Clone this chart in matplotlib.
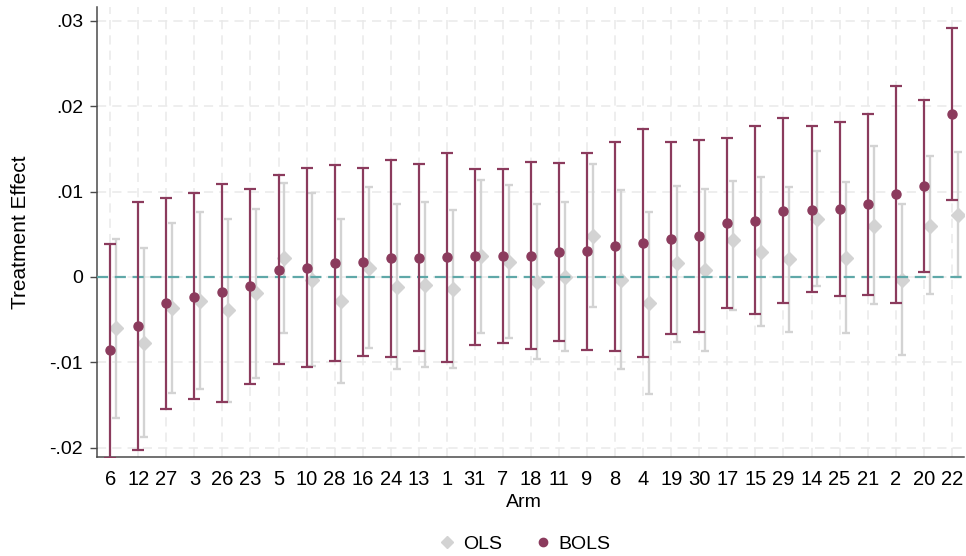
import numpy as np
import matplotlib.pyplot as plt
from matplotlib.lines import Line2D

plt.rcParams["font.family"] = ["Liberation Sans", "DejaVu Sans"]

# arms sorted by BOLS estimate
arms = ["6", "12", "27", "3", "26", "23", "5", "10", "28", "16", "24", "13", "1", "31", "7",
        "18", "11", "9", "8", "4", "19", "30", "17", "15", "29", "14", "25", "21", "2", "20", "22"]

bols_est = [-0.0086, -0.0058, -0.0031, -0.0023, -0.0018, -0.0011, 0.0008, 0.0011, 0.0016, 0.0017,
            0.0022, 0.0022, 0.0023, 0.0024, 0.0025, 0.0025, 0.0029, 0.0030, 0.0036, 0.0040, 0.0045,
            0.0048, 0.0063, 0.0066, 0.0077, 0.0079, 0.0080, 0.0085, 0.0097, 0.0106, 0.0191]
bols_lo = [-0.0212, -0.0203, -0.0155, -0.0143, -0.0146, -0.0125, -0.0102, -0.0105, -0.0099, -0.0093,
           -0.0094, -0.0087, -0.0100, -0.0080, -0.0077, -0.0084, -0.0075, -0.0086, -0.0087, -0.0094,
           -0.0067, -0.0064, -0.0036, -0.0044, -0.0031, -0.0018, -0.0022, -0.0021, -0.0030, 0.0006, 0.0090]
bols_hi = [0.0039, 0.0088, 0.0093, 0.0098, 0.0109, 0.0103, 0.0119, 0.0128, 0.0131, 0.0128,
           0.0137, 0.0132, 0.0145, 0.0127, 0.0126, 0.0135, 0.0134, 0.0145, 0.0158, 0.0173, 0.0158,
           0.0160, 0.0163, 0.0177, 0.0186, 0.0177, 0.0181, 0.0191, 0.0224, 0.0207, 0.0292]

ols_est = [-0.0060, -0.0077, -0.0036, -0.0028, -0.0039, -0.0019, 0.0022, -0.0003, -0.0028, 0.0011,
           -0.0012, -0.0009, -0.0014, 0.0025, 0.0018, -0.0006, 0.0000, 0.0048, -0.0003, -0.0030, 0.0016,
           0.0008, 0.0043, 0.0029, 0.0021, 0.0068, 0.0022, 0.0060, -0.0003, 0.0060, 0.0073]
ols_lo = [-0.0165, -0.0187, -0.0136, -0.0131, -0.0146, -0.0118, -0.0066, -0.0104, -0.0124, -0.0083,
          -0.0108, -0.0106, -0.0107, -0.0066, -0.0071, -0.0096, -0.0087, -0.0035, -0.0108, -0.0137, -0.0076,
          -0.0087, -0.0039, -0.0058, -0.0064, -0.0011, -0.0066, -0.0032, -0.0091, -0.0020, 0.0000]
ols_hi = [0.0045, 0.0034, 0.0063, 0.0076, 0.0068, 0.0080, 0.0110, 0.0098, 0.0068, 0.0105,
          0.0085, 0.0088, 0.0079, 0.0114, 0.0108, 0.0085, 0.0088, 0.0132, 0.0102, 0.0076, 0.0107,
          0.0103, 0.0112, 0.0117, 0.0105, 0.0147, 0.0111, 0.0153, 0.0086, 0.0142, 0.0146]

yticks = [-0.02, -0.01, 0, 0.01, 0.02, 0.03]
ytick_labels = ["-.02", "-.01", "0", ".01", ".02", ".03"]

BOLS_COLOR = "#8b3b5d"
OLS_COLOR = "#d3d3d3"

x = np.arange(len(arms))
offset = 0.21

fig = plt.figure(figsize=(9.66, 5.56), dpi=100)
ax = fig.add_axes([0.1004, 0.178, 0.898, 0.809])

ols_est = np.array(ols_est)
bols_est = np.array(bols_est)

ax.errorbar(x + offset, ols_est,
            yerr=[ols_est - np.array(ols_lo), np.array(ols_hi) - ols_est],
            fmt="D", color=OLS_COLOR, ms=7, elinewidth=1.7, capsize=3, capthick=1.7,
            zorder=3)
ax.axhline(0, color="#5fa8a8", lw=1.6, ls=(0, (5, 3)), zorder=3.5)
ax.errorbar(x, bols_est,
            yerr=[bols_est - np.array(bols_lo), np.array(bols_hi) - bols_est],
            fmt="o", color=BOLS_COLOR, ms=6.5, elinewidth=1.6, capsize=4, capthick=1.6,
            zorder=4)

ax.set_xlim(-0.47, 30.45)
ax.set_ylim(-0.0211, 0.0316)
ax.set_xticks(x)
ax.set_xticklabels(arms, fontsize=14.5)
ax.set_yticks(yticks)
ax.set_yticklabels(ytick_labels, fontsize=14)

ax.grid(True, color="#e9e9e9", lw=1.1, ls=(0, (6, 4)), zorder=0)
ax.set_axisbelow(True)
for side in ["top", "right"]:
    ax.spines[side].set_visible(False)
for side in ["left", "bottom"]:
    ax.spines[side].set_color("#4a4a4a")
    ax.spines[side].set_linewidth(1.1)
ax.tick_params(axis="y", length=5, width=1.0, color="#4a4a4a", pad=5)
ax.tick_params(axis="x", length=0, pad=9)

ax.set_xlabel("Arm", fontsize=14)
ax.xaxis.set_label_coords(0.4925, -0.082)
ax.set_ylabel("Treatment Effect", fontsize=15)
ax.yaxis.set_label_coords(-0.077, 0.5)

handles = [
    Line2D([], [], ls="none", marker="D", color=OLS_COLOR, ms=6),
    Line2D([], [], ls="none", marker="o", color=BOLS_COLOR, ms=6),
]
fig.legend(handles, ["OLS", "BOLS"], loc="center", bbox_to_anchor=(0.5424, 0.0207),
           ncol=2, frameon=False, fontsize=14, handletextpad=0.3, columnspacing=1.6,
           handlelength=1.0)

fig.savefig("out.png", dpi=100)
